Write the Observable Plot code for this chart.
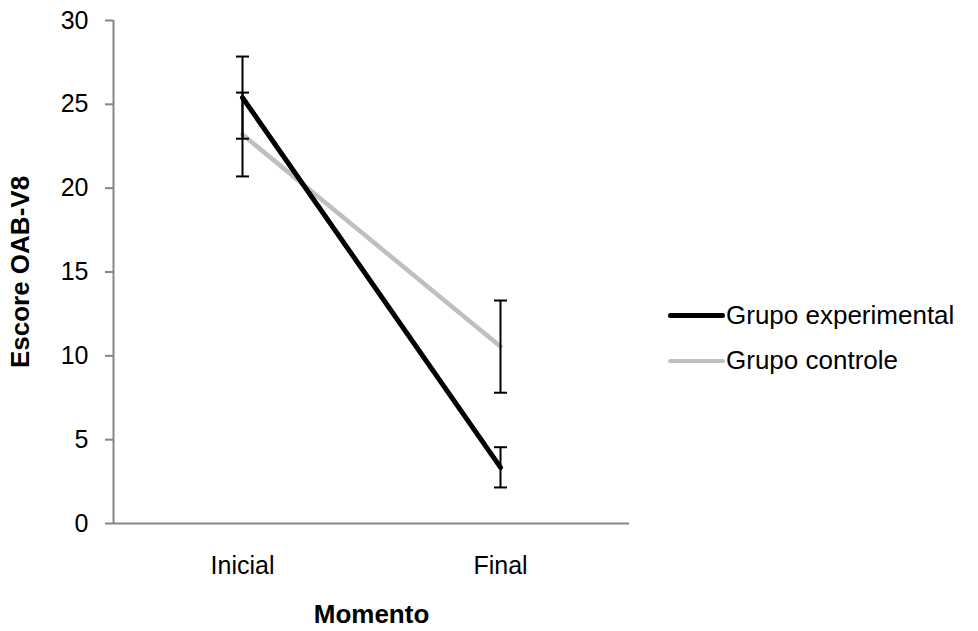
<!DOCTYPE html>
<html>
<head>
<meta charset="utf-8">
<script src="https://cdn.jsdelivr.net/npm/d3@7"></script>
<script src="https://cdn.jsdelivr.net/npm/@observablehq/plot@0.6"></script>
<style>
  html, body { margin: 0; padding: 0; background: #fff; }
  #wrap { position: relative; width: 978px; height: 631px; font-family: "Liberation Sans", Arial, sans-serif; }
  #legend { position: absolute; left: 668px; top: 293px; font-size: 26px; color: #000; }
  .row { display: flex; align-items: center; height: 45px; }
  .sw { width: 57px; height: 0; border-top-style: solid; border-radius: 3px; margin-right: 1px; }
</style>
</head>
<body>
<div id="wrap"></div>
<script>
// ---- data ----
const moments = ["Inicial", "Final"];
const seriesNames = ["Grupo experimental", "Grupo controle"];
const expMean = [25.4, 3.35];
const expErr = [2.45, 1.2];
const ctrlMean = [23.2, 10.55];
const ctrlErr = [2.5, 2.75];
const yTicks = [0, 5, 10, 15, 20, 25, 30];
const colors = ["#000000", "#bfbfbf"];
const widths = [5, 4.5];

const rows = [];
moments.forEach((m, i) => {
  rows.push({series: seriesNames[0], i, mean: expMean[i], err: expErr[i]});
  rows.push({series: seriesNames[1], i, mean: ctrlMean[i], err: ctrlErr[i]});
});
const ctrlRows = rows.filter(d => d.series === seriesNames[1]);
const expRows = rows.filter(d => d.series === seriesNames[0]);

const axisGray = "#868686";

// horizontal cap symbol for error bars
const capSymbol = {
  draw(ctx, size) {
    const r = Math.sqrt(size / Math.PI);
    ctx.moveTo(-r, 0);
    ctx.lineTo(r, 0);
  }
};

const chart = Plot.plot({
  width: 978,
  height: 631,
  marginLeft: 113,
  marginRight: 349,
  marginTop: 20,
  marginBottom: 108,
  style: {fontFamily: "'Liberation Sans', Arial, sans-serif", fontSize: "25px", color: "#000", background: "#fff"},
  x: {type: "linear", domain: [-0.5, moments.length - 0.5]},
  y: {type: "linear", domain: [0, 30]},
  marks: [
    Plot.axisY({ticks: yTicks, tickSize: 8, tickPadding: 17, stroke: axisGray, strokeWidth: 2, fill: "#000", label: null}),
    Plot.axisX({ticks: moments.map((_, i) => i), tickFormat: i => moments[i], tickSize: 0, tickPadding: 33, fill: "#000", label: null}),
    Plot.ruleY([0], {stroke: axisGray, strokeWidth: 2}),
    Plot.ruleX([-0.5], {stroke: axisGray, strokeWidth: 2}),
    Plot.text(["Escore OAB-V8"], {frameAnchor: "left", textAnchor: "middle", lineAnchor: "middle", rotate: -90, dx: -93, fontWeight: "bold", fontSize: 26}),
    Plot.text(["Momento"], {frameAnchor: "bottom", textAnchor: "middle", lineAnchor: "middle", dy: 91, fontWeight: "bold", fontSize: 26}),
    Plot.line(ctrlRows, {x: "i", y: "mean", stroke: colors[1], strokeWidth: widths[1]}),
    Plot.line(expRows, {x: "i", y: "mean", stroke: colors[0], strokeWidth: widths[0]}),
    Plot.ruleX(rows, {x: "i", y1: d => d.mean - d.err, y2: d => d.mean + d.err, stroke: "#000", strokeWidth: 2}),
    Plot.dot(rows, {x: "i", y: d => d.mean + d.err, symbol: capSymbol, r: 6.5, stroke: "#000", strokeWidth: 2, fill: "none"}),
    Plot.dot(rows, {x: "i", y: d => d.mean - d.err, symbol: capSymbol, r: 6.5, stroke: "#000", strokeWidth: 2, fill: "none"})
  ]
});

const wrap = document.getElementById("wrap");
wrap.appendChild(chart);

const legend = document.createElement("div");
legend.id = "legend";
seriesNames.forEach((name, k) => {
  const row = document.createElement("div");
  row.className = "row";
  const sw = document.createElement("span");
  sw.className = "sw";
  sw.style.borderTopColor = colors[k];
  sw.style.borderTopWidth = widths[k] + "px";
  const t = document.createElement("span");
  t.textContent = name;
  row.appendChild(sw);
  row.appendChild(t);
  legend.appendChild(row);
});
wrap.appendChild(legend);
</script>
</body>
</html>
